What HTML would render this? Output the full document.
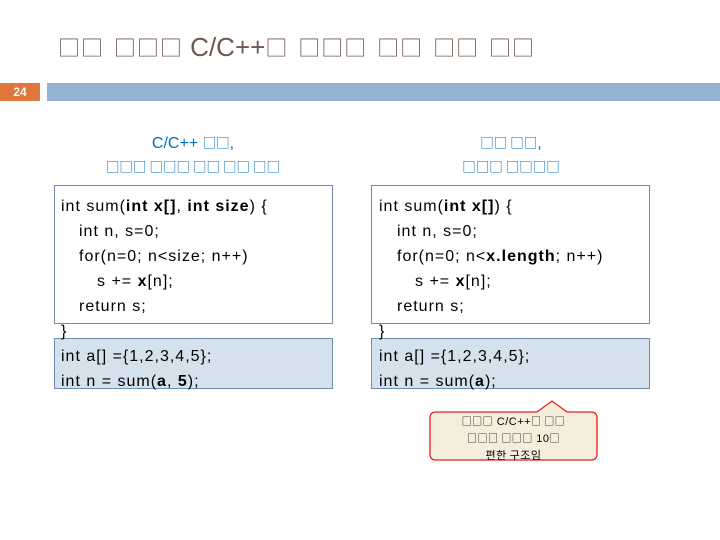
<html><head><style>
body{margin:0;width:720px;height:540px;background:#fff;position:relative;font-family:"Liberation Sans","DejaVu Sans",sans-serif;overflow:hidden}
.a{position:absolute}
.k{font-family:"Noto Sans CJK KR",sans-serif}
.t{left:58px;top:30px;font-size:26px;color:#705850;white-space:nowrap;line-height:34px}
.t .k{font-size:22px;letter-spacing:1px;word-spacing:4px}
.box{position:absolute;border:1px solid #6d8fb3;box-sizing:border-box}
.code{position:absolute;font-size:16px;color:#000;line-height:25px;white-space:nowrap;letter-spacing:1px}
.code div{height:25px}
.i1{margin-left:18px}.i2{margin-left:36px}
.cap{position:absolute;color:#0070c0;font-size:16px;text-align:center;width:280px;line-height:23px}
.cap .k{font-size:13.5px}
.cl .k{font-size:10px}
</style></head><body>
<div class="a t"><span class="k">□□ □□□</span> C/C++<span class="k">□ □□□ □□ □□ □□</span></div>
<div class="a" style="left:0;top:83px;width:40px;height:18px;background:#e0773a;color:#fff;font-size:12px;font-weight:bold;text-align:center;line-height:18px">24</div>
<div class="a" style="left:47px;top:83px;width:673px;height:18px;background:#94b4d1"></div>

<div class="cap" style="left:53px;top:131px">C/C++ <span class="k">□□</span>,<br><span class="k">□□□ □□□ □□ □□ □□</span></div>
<div class="cap" style="left:371px;top:131px"><span class="k">□□ □□</span>,<br><span class="k">□□□ □□□□</span></div>

<div class="box" style="left:54px;top:185px;width:279px;height:139px"></div>
<div class="box" style="left:54px;top:338px;width:279px;height:51px;background:#d5e2ee"></div>
<div class="code" style="left:61px;top:194px">
<div>int sum(<b>int x[]</b>, <b>int size</b>) {</div>
<div class="i1">int n, s=0;</div>
<div class="i1">for(n=0; n&lt;size; n++)</div>
<div class="i2">s += <b>x</b>[n];</div>
<div class="i1">return s;</div>
<div>}</div>
<div>int a[] ={1,2,3,4,5};</div>
<div>int n = sum(<b>a</b>, <b>5</b>);</div></div>

<div class="box" style="left:371px;top:185px;width:279px;height:139px"></div>
<div class="box" style="left:371px;top:338px;width:279px;height:51px;background:#d5e2ee"></div>
<div class="code" style="left:379px;top:194px">
<div>int sum(<b>int x[]</b>) {</div>
<div class="i1">int n, s=0;</div>
<div class="i1">for(n=0; n&lt;<b>x.length</b>; n++)</div>
<div class="i2">s += <b>x</b>[n];</div>
<div class="i1">return s;</div>
<div>}</div>
<div>int a[] ={1,2,3,4,5};</div>
<div>int n = sum(<b>a</b>);</div></div>

<svg class="a" style="left:0;top:0" width="720" height="540">
<path d="M436,412 L537,412 L552,401 L567,412 L591,412 Q597,412 597,418 L597,454 Q597,460 591,460 L436,460 Q430,460 430,454 L430,418 Q430,412 436,412 Z" fill="#f6eedc" stroke="#e02020" stroke-width="1.3"/>
</svg>
<div class="a cl" style="left:430px;top:413px;width:167px;text-align:center;font-size:11px;line-height:16px;color:#000;letter-spacing:0.5px"><span class="k">□□□</span> C/C++<span class="k">□ □□</span><br><span class="k">□□□ □□□</span> 10<span class="k">□</span><br><span class="k" style="font-size:11px">편한 구조임</span></div>
</body></html>
